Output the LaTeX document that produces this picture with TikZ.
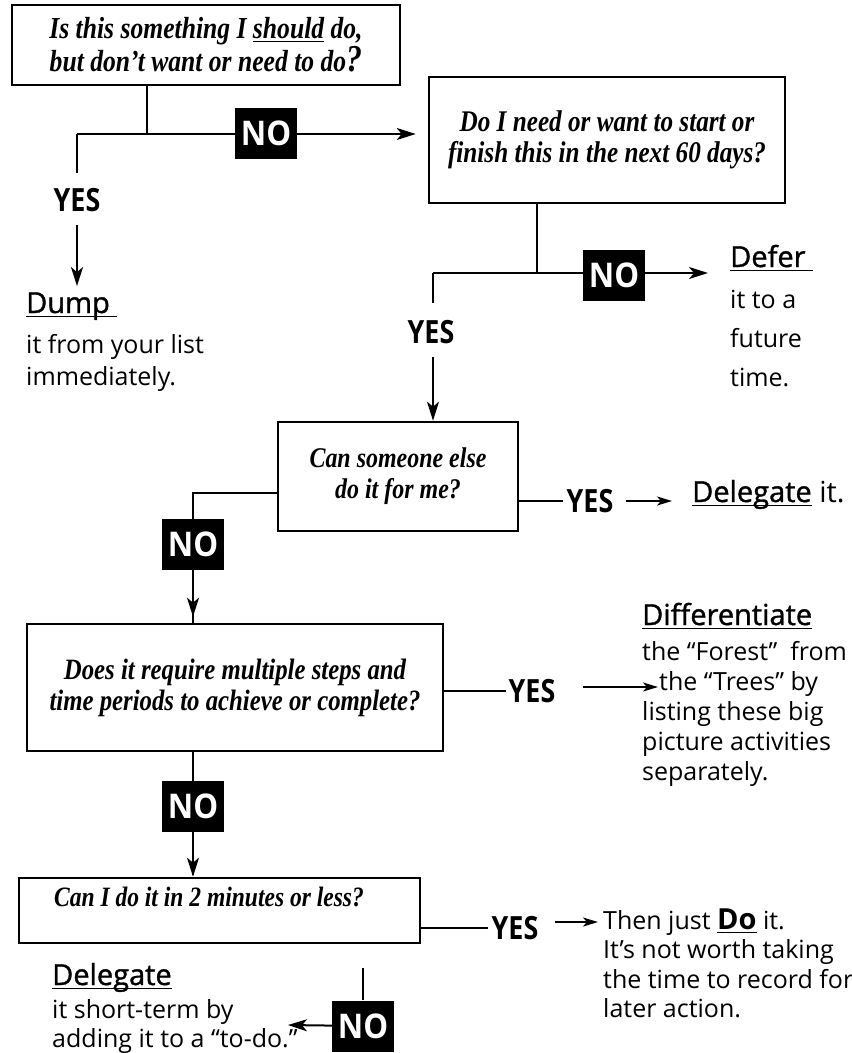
\documentclass[tikz,border=0pt]{standalone}
\usepackage{fontspec}
\usetikzlibrary{arrows.meta}
\setmainfont{Open Sans}
\newfontfamily\qfont[FakeStretch=0.84]{Liberation Serif}
\newfontfamily\yesfont[FakeStretch=0.84]{Open Sans}
\newfontfamily\nofont[FakeStretch=0.92]{Open Sans}
\newfontfamily\headfont[FakeBold=1.2]{Open Sans}
\newcommand\hul[2][4pt]{\setbox0=\hbox{#2}\rlap{\rule[-#1]{\wd0}{1.3pt}}\box0\relax}
\begin{document}
\begin{tikzpicture}[x=1pt,y=-1pt,
  qbox/.style={draw,line width=2.6pt,inner sep=0pt,align=center,
    font=\qfont\bfseries\itshape\fontsize{#1}{31}\selectfont},
  qtext/.style={inner sep=0pt,align=center,
    font=\qfont\bfseries\itshape\fontsize{#1}{31}\selectfont},
  nolab/.style={fill=black,text=white,font=\nofont\bfseries\fontsize{34}{34}\selectfont,
    minimum width=62pt,minimum height=51pt,inner sep=0pt},
  yeslab/.style={font=\yesfont\bfseries\fontsize{32}{32}\selectfont,inner sep=0pt},
  body/.style={font=\fontsize{25}{#1}\selectfont,align=left,inner sep=0pt,anchor=base west},
  head/.style={font=\headfont\fontsize{29}{30}\selectfont,inner sep=0pt,anchor=base west},
  conn/.style={line width=2pt},
  arr/.style={conn,-{Stealth[length=19pt,width=12pt,inset=5pt]}},
  sarr/.style={conn,-{Stealth[length=15pt,width=9pt,inset=4pt]}}]
\useasboundingbox (0,0) rectangle (852,1053);

% question boxes
\node[qbox=30.5,minimum width=388pt,minimum height=80pt] (b1) at (206,45)
  {\fontsize{30.5}{34}\selectfont Is this something I \hul[3pt]{should} do,\\
   but don’t want or need to do{\fontsize{38}{38}\selectfont ?}};
\node[qbox=30,minimum width=356pt,minimum height=126pt] (b2) at (607,140)
  {Do I need or want to start or\\finish this in the next 60 days?};
\node[qbox=28.5,minimum width=240pt,minimum height=109pt] (b3) at (398,476.5)
  {Can someone else\\do it for me?};
\node[qbox=29.5,minimum width=416pt,minimum height=127pt] (b4) at (235,687.5)
  {Does it require multiple steps and\\time periods to achieve or complete?};
\node[draw,line width=2.6pt,minimum width=401pt,minimum height=65pt,inner sep=0pt] (b5) at (219.5,910.5) {};
\node[qtext=28] (t5) at (209,897) {Can I do it in 2 minutes or less?};

% outcome texts (multi-line nodes: base = last line)
\node[head] (dumph) at (26,313) {\hul{Dump\ }};
\node[body=32] (dumpb) at (26,385) {it from your list\\immediately.};
\node[head] (deferh) at (730,267) {\hul{Defer\ }};
\node[body=39] (deferb) at (730,386) {it to a\\future\\time.};
\node[head] (del1) at (692,502) {\hul{Delegate}\ {\normalfont\fontsize{29}{30}\selectfont it.}};
\node[head] (diffh) at (642,625) {\hul{Differentiate}};
\node[body=30] (diffb) at (642,780) {the “Forest”\ \ from\\\hspace*{17pt}the “Trees” by\\listing these big\\picture activities\\separately.};
\node[body=29.5] (doit) at (603,1017.5) {Then just \hul{\bfseries\fontsize{29}{30}\selectfont Do} it.\\It’s not worth taking\\the time to record for\\later action.};
\node[head] (del2h) at (52,985) {\hul{Delegate}};
\node[body=29] (del2b) at (52,1047) {it short-term by\\adding it to a “to-do.”};

% YES labels
\node[yeslab] (yes1) at (77,200) {YES};
\node[yeslab] (yes2) at (431,332) {YES};
\node[yeslab] (yes3) at (590,501) {YES};
\node[yeslab] (yes4) at (532,691) {YES};
\node[yeslab] (yes5) at (515,928) {YES};

% coordinates
\coordinate (j1) at (147,134);
\coordinate (c1) at (77,134);
\coordinate (j2) at (537,273);
\coordinate (c2) at (433,273);
\coordinate (j3) at (193,493);
\coordinate (c5) at (363,968);
\coordinate (t5tip) at (288,1025);

% connectors box 1
\draw[conn] (b1.south -| j1) -- (j1);
\draw[arr] (c1) -- ([xshift=-12pt]b2.west |- j1);
\draw[conn,shorten >=15pt] (c1) -- (yes1.north -| c1);
\draw[arr,shorten <=13pt,shorten >=6pt] (yes1.south -| c1) -- (dumph.north -| c1);

% connectors box 2
\draw[conn] (b2.south -| j2) -- (j2);
\draw[arr] (c2) -- ([xshift=-22pt]deferh.west |- j2);
\draw[conn,shorten >=17pt] (c2) -- (yes2.north -| c2);
\draw[arr,shorten <=13pt] (yes2.south -| c2) -- (b3.north -| c2);

% connectors box 3
\draw[conn] (b3.west |- j3) -- (j3) -- (j3 |- b4.north);
\draw[conn,shorten >=3pt] (b3.east |- yes3) -- (yes3.west);
\draw[sarr,shorten <=12pt,shorten >=20pt] (yes3.east) -- (yes3.east -| del1.west);

% connectors box 4
\draw[conn,shorten >=2pt] (b4.south -| j3) -- (j3 |- b5.north);
\draw[conn,shorten >=2pt] (b4.east |- yes4) -- (yes4.west);
\draw[sarr,shorten <=27pt] ([yshift=4pt]yes4.east) -- ([xshift=16pt,yshift=4pt]yes4.east -| diffb.west);

% connectors box 5
\draw[conn,shorten >=3pt] (b5.east |- yes5) -- (yes5.west);
\draw[sarr,shorten <=16pt,shorten >=5pt] ([yshift=6pt]yes5.east) -- ([yshift=6pt]yes5.east -| doit.west);

% NO labels (drawn over the lines)
\node[nolab] (no1) at (266,133) {NO};
\node[nolab] (no2) at (614,275) {NO};
\node[nolab] (no3) at (193,544.5) {NO};
\node[nolab] (no4) at (193,806.5) {NO};
\node[nolab] (no5) at (363,1026) {NO};
\draw[arr,shorten >=6pt] (no3) -- (b4.north -| no3);
\draw[arr] (no4) -- (b5.north -| no4);
\draw[conn] (no5) -- (c5);
\draw[arr] (no5) -- (t5tip);
\end{tikzpicture}
\end{document}
